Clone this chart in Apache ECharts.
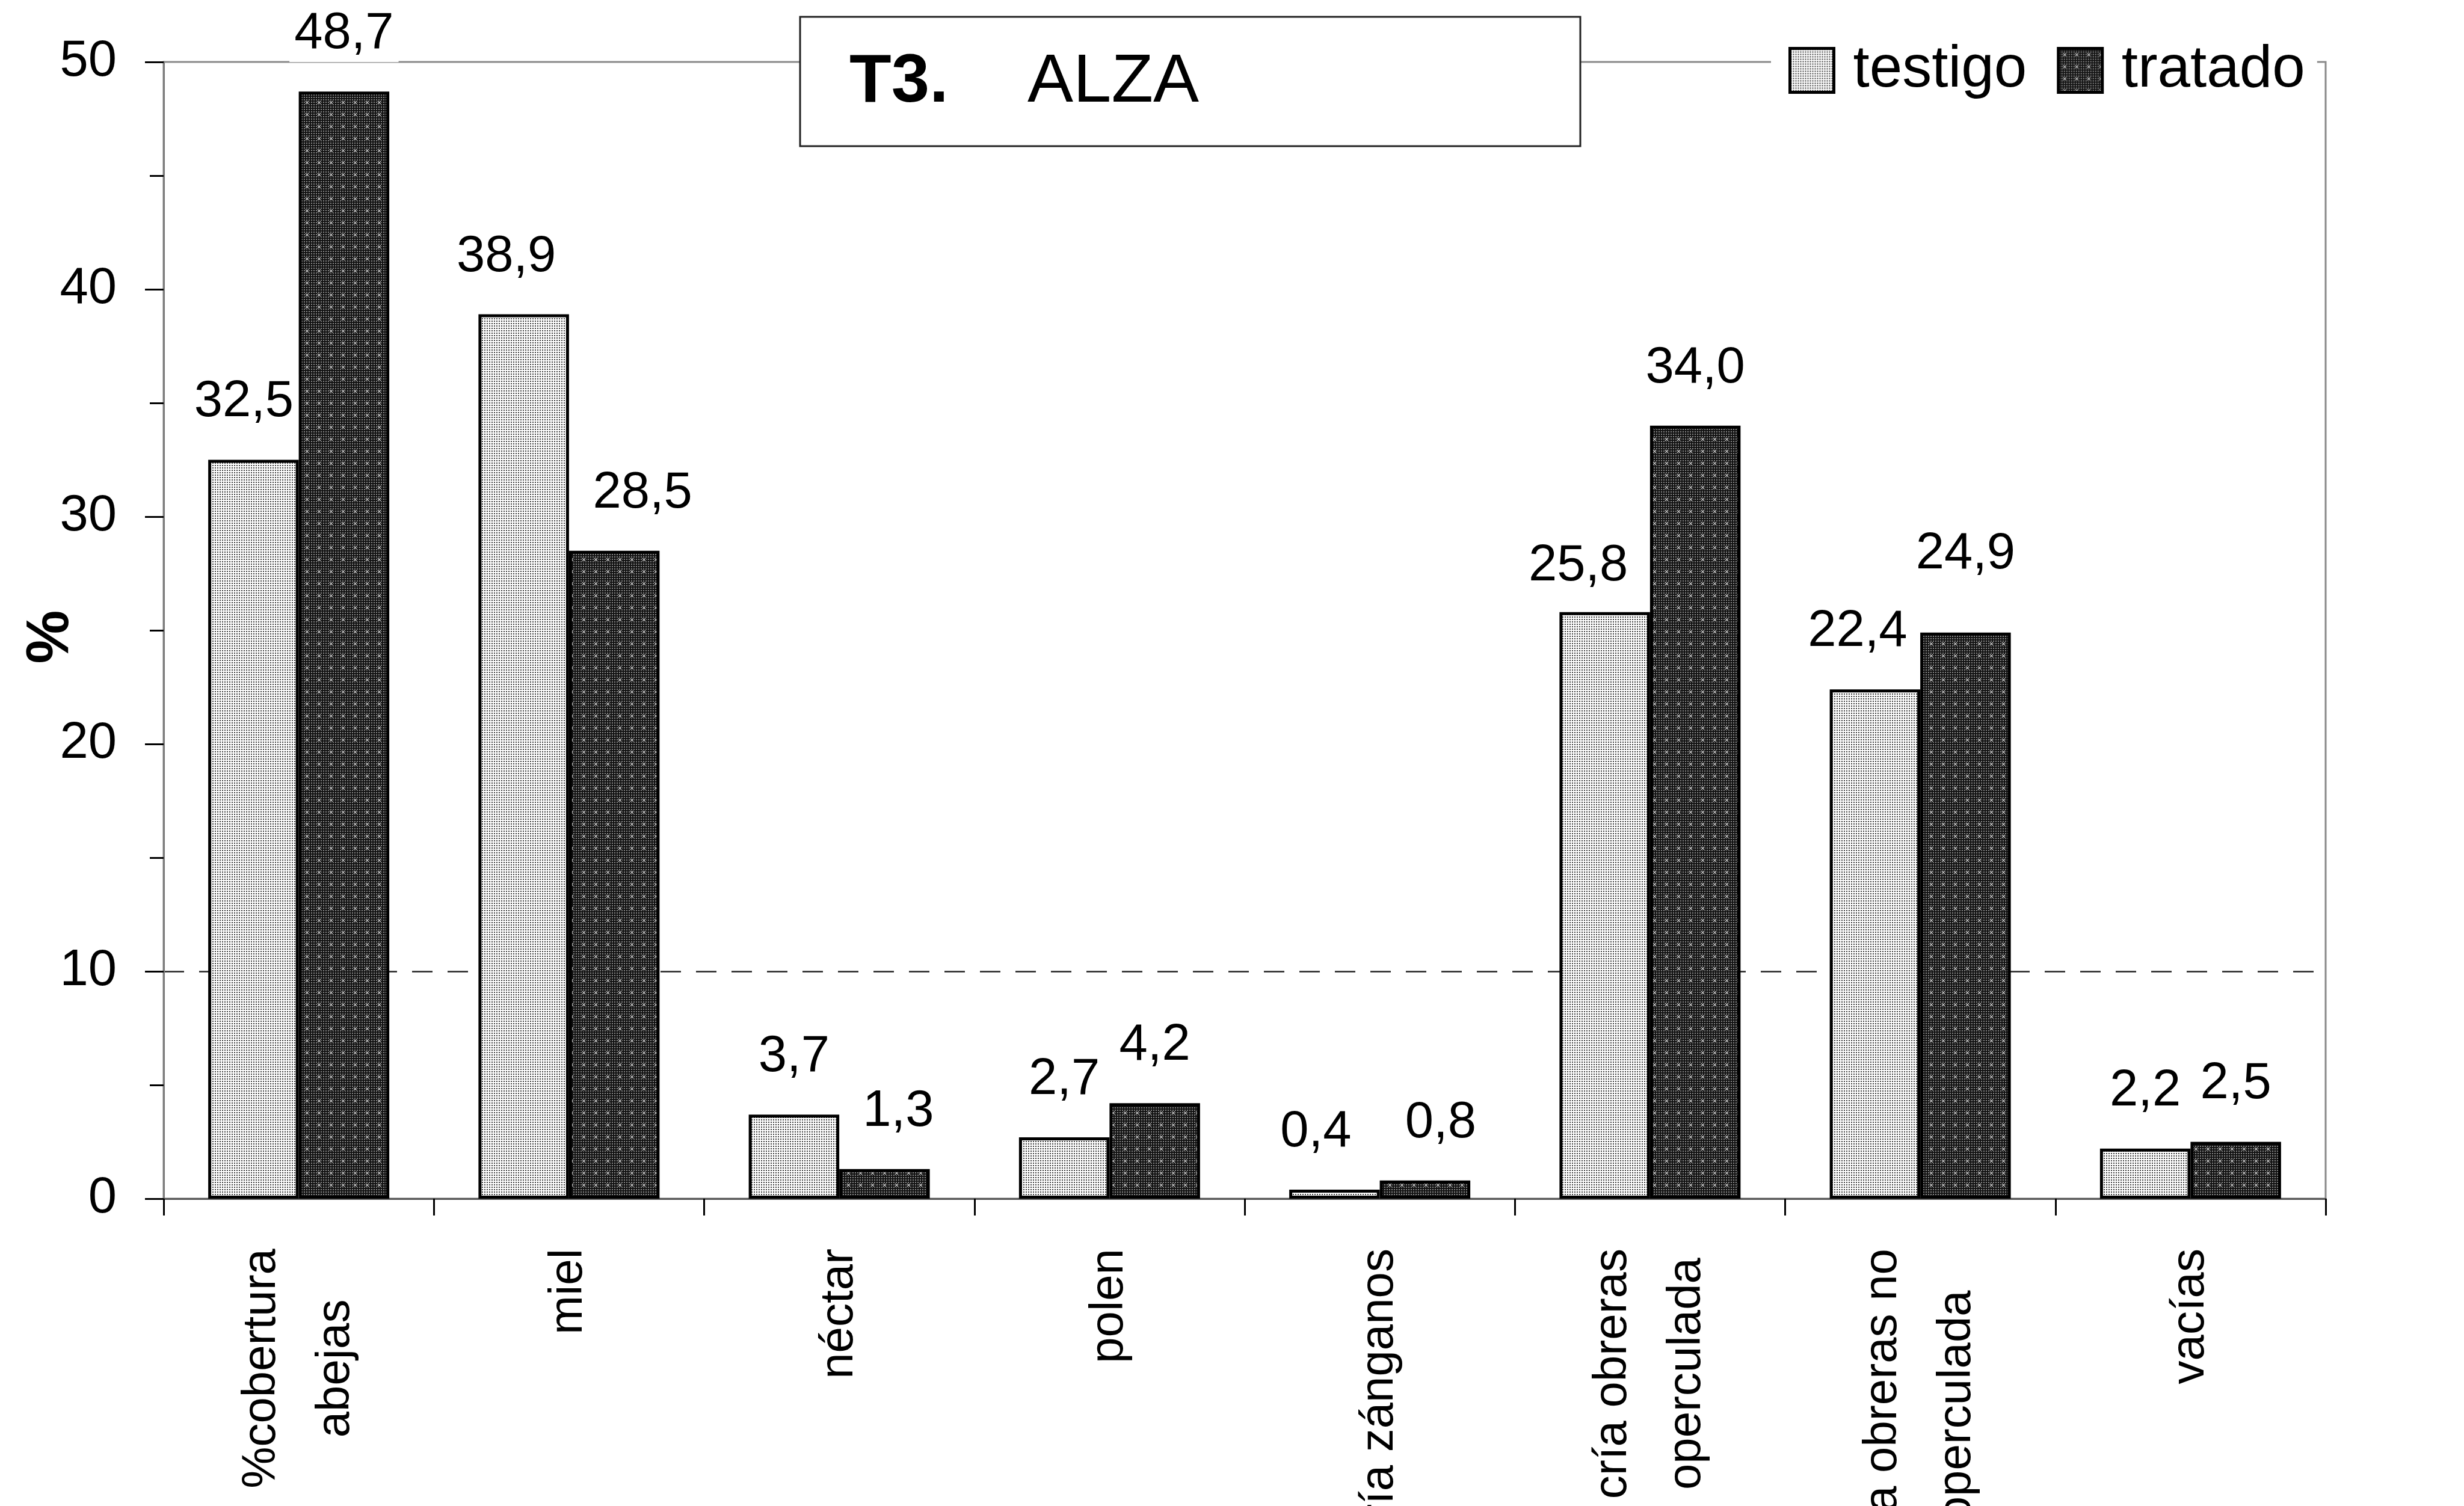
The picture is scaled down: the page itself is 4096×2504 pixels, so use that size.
<!DOCTYPE html>
<html>
<head>
<meta charset="utf-8">
<script src="https://cdn.jsdelivr.net/npm/echarts@6/dist/echarts.min.js"></script>
<style>
  html, body { margin: 0; padding: 0; background: #fff; }
  #chart { width: 4096px; height: 2504px; }
</style>
</head>
<body>
<div id="chart"></div>
<script>
// Hive frame composition (%) for treatment T3 (ALZA): control vs treated colonies
const categories = [
  '%cobertura\nabejas',
  'miel',
  'néctar',
  'polen',
  'cría zánganos',
  'cría obreras\noperculada',
  'cría obreras no\noperculada',
  'vacías'
];
const testigo = [32.5, 38.9, 3.7, 2.7, 0.4, 25.8, 22.4, 2.2];
const tratado = [48.7, 28.5, 1.3, 4.2, 0.8, 34.0, 24.9, 2.5];
const seriesNames = ['testigo', 'tratado'];
const titleCode = 'T3.';
const titleName = 'ALZA';
const axisTitle = '%';

// small nudges [dx, dy] that keep value labels clear of neighbouring bars
const testigoLabelShift = [[-16, 0], [-29, 0], [0, 0], [0, 0], [-31, 0], [-44, 19], [-29, 0], [0, 0]];
const tratadoLabelShift = [[0, 0], [47, 0], [23, 0], [0, 0], [26, 0], [0, 0], [0, -35], [0, 0]];

const FONT = '"Liberation Sans", Arial, Helvetica, sans-serif';
const CAT_FONT_SIZE = 78;

// stippled fills in the style of a printed spreadsheet chart
function makePattern(kind) {
  const c = document.createElement('canvas');
  if (kind === 'light') {
    c.width = c.height = 4;
    const g = c.getContext('2d');
    g.fillStyle = '#ffffff';
    g.fillRect(0, 0, 4, 4);
    g.fillStyle = '#3c3c3c';
    g.fillRect(1, 1, 2, 2);
  } else {
    c.width = c.height = 20;
    const g = c.getContext('2d');
    g.fillStyle = '#121212';
    g.fillRect(0, 0, 20, 20);
    g.fillStyle = '#8a8a8a';
    for (let y = 0; y < 20; y += 4) {
      for (let x = 0; x < 20; x += 4) {
        g.fillRect(x + 1, y + 1, 2, 2);
      }
    }
    g.fillStyle = '#121212';
    g.fillRect(7, 7, 7, 7);
    g.strokeStyle = '#d4d4d4';
    g.lineWidth = 1.2;
    g.beginPath();
    g.moveTo(8, 8); g.lineTo(13, 13);
    g.moveTo(13, 8); g.lineTo(8, 13);
    g.stroke();
  }
  return { image: c, repeat: 'repeat' };
}

// Multi-line category labels: each shorter line gets a spacer on its axis side
// so that the lines are centred on one another, as in a spreadsheet chart.
const measureCtx = document.createElement('canvas').getContext('2d');
measureCtx.font = CAT_FONT_SIZE + 'px ' + FONT;
const catRich = {
  c: { fontSize: CAT_FONT_SIZE, lineHeight: 123, fontFamily: FONT, color: '#000' }
};
const catFormatted = {};
let spacerCount = 0;
categories.forEach(cat => {
  const lines = cat.split('\n');
  const widths = lines.map(s => measureCtx.measureText(s).width);
  const maxW = Math.max.apply(null, widths);
  catFormatted[cat] = lines.map((s, i) => {
    const pad = (maxW - widths[i]) / 2;
    if (pad < 1) return '{c|' + s + '}';
    const key = 's' + (spacerCount++);
    catRich[key] = { fontSize: CAT_FONT_SIZE, lineHeight: 123, fontFamily: FONT, width: pad, color: 'rgba(0,0,0,0)' };
    return '{c|' + s + '}{' + key + '| }';
  }).join('\n');
});

const fmt = p => p.value.toFixed(1).replace('.', ',');

const labelBase = {
  show: true,
  position: 'top',
  distance: 49,
  formatter: fmt,
  fontSize: 85,
  fontFamily: FONT,
  color: '#000',
  backgroundColor: '#fff',
  padding: [4, 8]
};

function buildData(values, shifts) {
  return values.map((v, i) => ({ value: v, label: { offset: shifts[i] } }));
}

const chart = echarts.init(document.getElementById('chart'), null, { renderer: 'canvas' });

const clear = 'rgba(0,0,0,0)';

chart.setOption({
  animation: false,
  backgroundColor: '#fff',
  grid: {
    left: 272,
    top: 103,
    width: 3594,
    height: 1890,
    show: true,
    borderColor: '#8a8a8a',
    borderWidth: 3,
    backgroundColor: clear,
    containLabel: false,
    outerBoundsMode: 'none'
  },
  legend: {
    data: seriesNames,
    left: 2944,
    top: 58,
    padding: [10, 20, 10, 29],
    backgroundColor: '#fff',
    icon: 'rect',
    itemWidth: 73,
    itemHeight: 73,
    itemGap: 50,
    itemStyle: { borderColor: '#000', borderWidth: 5 },
    textStyle: { fontSize: 98, fontFamily: FONT, color: '#000', padding: [0, 0, 0, 27] }
  },
  xAxis: {
    type: 'category',
    data: categories,
    axisLine: { show: true, lineStyle: { color: '#555', width: 3 } },
    axisTick: { show: true, length: 28, lineStyle: { color: '#000', width: 3 } },
    axisLabel: {
      interval: 0,
      rotate: 90,
      margin: 83,
      hideOverlap: false,
      formatter: v => catFormatted[v],
      rich: catRich
    },
    splitLine: { show: false }
  },
  yAxis: {
    type: 'value',
    min: 0,
    max: 50,
    interval: 10,
    name: axisTitle,
    nameLocation: 'middle',
    nameRotate: 90,
    nameGap: 137,
    nameMoveOverlap: false,
    nameTextStyle: { fontSize: 100, fontWeight: 'bold', fontFamily: FONT, color: '#000', padding: [0, 22, 0, 0] },
    axisLine: { show: true, lineStyle: { color: '#7a7a7a', width: 3 } },
    axisTick: { show: true, length: 31, lineStyle: { color: '#000', width: 3 } },
    minorTick: { show: true, splitNumber: 2, length: 23, lineStyle: { color: '#000', width: 3 } },
    axisLabel: { fontSize: 85, margin: 78, fontFamily: FONT, color: '#000' },
    splitLine: {
      show: true,
      lineStyle: {
        color: [clear, '#222', clear, clear, clear, clear],
        width: 2.5,
        type: [34, 25]
      }
    },
    minorSplitLine: { show: false }
  },
  series: [
    {
      name: seriesNames[0],
      type: 'bar',
      data: buildData(testigo, testigoLabelShift),
      barGap: '0%',
      barCategoryGap: '33%',
      itemStyle: { color: makePattern('light'), borderColor: '#000', borderWidth: 5 },
      label: labelBase
    },
    {
      name: seriesNames[1],
      type: 'bar',
      data: buildData(tratado, tratadoLabelShift),
      barGap: '0%',
      barCategoryGap: '33%',
      itemStyle: { color: makePattern('dark'), borderColor: '#000', borderWidth: 5 },
      label: labelBase
    }
  ],
  graphic: [
    {
      type: 'rect',
      z: 20,
      shape: { x: 1330, y: 28, width: 1297, height: 215 },
      style: { fill: '#fff', stroke: '#222', lineWidth: 3 }
    },
    {
      type: 'text',
      z: 21,
      x: 1412,
      y: 138,
      style: {
        text: titleCode,
        font: 'bold 114px ' + FONT,
        fill: '#000',
        verticalAlign: 'middle'
      }
    },
    {
      type: 'text',
      z: 21,
      x: 1708,
      y: 138,
      style: {
        text: titleName,
        font: '114px ' + FONT,
        fill: '#000',
        verticalAlign: 'middle'
      }
    }
  ]
});
</script>
</body>
</html>
